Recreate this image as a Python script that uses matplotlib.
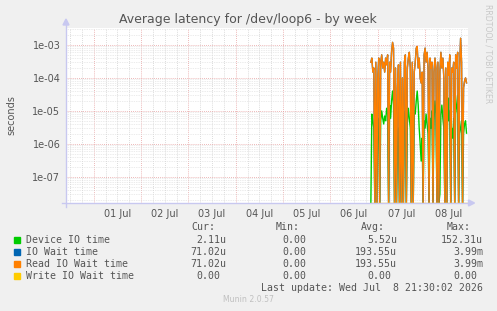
import matplotlib
matplotlib.use("Agg")
import matplotlib.pyplot as plt
import numpy as np
import pandas as pd

# sample times (30 min steps) and values
times = pd.date_range("2026-07-06 20:30", periods=98, freq="30min")

device_io = [
    0, 8e-6, 5e-6, 3e-6, 0, 1e-5, 0, 6e-6, 4e-6, 0,
    5e-6, 1e-5, 6e-6, 4e-6, 7e-6, 5e-6, 1.2e-5, 8e-6, 0, 1.5e-5,
    6e-6, 2e-5, 4e-5, 1.5e-5, 0, 5e-6, 0, 2e-6, 3e-6, 0,
    1e-5, 0, 3e-6, 0, 6e-6, 1e-5, 0, 4e-6, 1.2e-5, 6e-6,
    3e-6, 0, 2e-6, 0, 1e-5, 8e-6, 2e-5, 4e-5, 1.5e-5, 3e-6,
    1e-6, 3e-7, 1.5e-6, 0, 5e-6, 3e-6, 8e-6, 4e-6, 2e-6, 0,
    6e-6, 3e-6, 1e-5, 0, 5e-6, 2e-5, 8e-6, 0, 1e-6, 0,
    3e-8, 8e-6, 1.5e-5, 6e-6, 3e-6, 0, 8e-6, 0, 2.5e-5, 5e-6,
    1e-5, 0, 3e-6, 1.5e-6, 6e-6, 0, 8e-6, 1.5e-5, 3e-5, 0,
    2e-6, 3e-6, 5e-6, 0, 2e-6, 4e-6, 5e-6, 2.11e-6,
]

read_wait = [
    3e-4, 4e-4, 1.5e-4, 2e-4, 0, 3e-4, 0, 1e-4, 4e-4, 0,
    3e-4, 5e-4, 2e-4, 3e-4, 1.5e-4, 4e-4, 2.5e-4, 5e-4, 0, 3e-4,
    1.5e-4, 6e-4, 1.2e-3, 8e-4, 0, 2e-4, 0, 5e-5, 2.5e-4, 0,
    3e-4, 0, 1e-4, 0, 3e-4, 5e-4, 0, 2e-4, 4e-4, 6e-4,
    2e-4, 0, 3e-4, 0, 1.5e-4, 3e-4, 8e-4, 9e-4, 2e-4, 4e-4,
    1e-4, 7e-5, 1.5e-4, 0, 5e-4, 8e-4, 3e-4, 6e-4, 2e-4, 0,
    4e-4, 2e-4, 3e-4, 0, 1.5e-4, 4e-4, 2e-4, 0, 3e-4, 0,
    1.5e-4, 6e-4, 2e-4, 4e-4, 1e-4, 0, 2e-4, 0, 3e-4, 1.2e-4,
    5e-4, 0, 2e-4, 1.5e-4, 3e-4, 0, 5e-4, 2e-4, 6e-4, 0,
    2e-4, 1.6e-3, 3e-4, 0, 5e-5, 8e-5, 1e-4, 7.102e-5,
]
io_wait = list(read_wait)
write_wait = [0] * len(times)

labels = ["Device IO time", "IO Wait time", "Read IO Wait time", "Write IO Wait time"]
colors = ["#00cc00", "#0066b3", "#ff8000", "#ffcc00"]
cur_vals = ["2.11u", "71.02u", "71.02u", "0.00"]
min_vals = ["0.00", "0.00", "0.00", "0.00"]
avg_vals = ["5.52u", "193.55u", "193.55u", "0.00"]
max_vals = ["152.31u", "3.99m", "3.99m", "0.00"]
day_labels = ["01 Jul", "02 Jul", "03 Jul", "04 Jul", "05 Jul", "06 Jul", "07 Jul", "08 Jul"]

W, H = 497, 311
fig = plt.figure(figsize=(W / 100, H / 100), dpi=100, facecolor="#f0f0f0")

# plot area in pixels
L, R, T, B = 66, 467.5, 28, 203
ax = fig.add_axes([L / W, 1 - B / H, (R - L) / W, (B - T) / H])
ax.set_facecolor("white")

ymin, ymax = 1.6e-8, 3.27e-3
ax.set_yscale("log")
ax.set_ylim(ymin, ymax)
x0 = pd.Timestamp("2026-06-30 09:55")
x1 = pd.Timestamp("2026-07-08 21:30")
ax.set_xlim(x0, x1)

def clip(v):
    v = np.asarray(v, dtype=float)
    return np.where(v > 0, v, ymin)

series = [device_io, io_wait, read_wait, write_wait]
for vals, c in zip(series, colors):
    ax.plot(times, clip(vals), color=c, lw=1.0, zorder=3)

# grid
days = pd.date_range("2026-07-01", "2026-07-08", freq="D")
for d in pd.date_range("2026-06-30 12:00", "2026-07-08 18:00", freq="6h"):
    if d < x0 or d > x1:
        continue
    if d.hour == 0:
        ax.axvline(d, color="#e8a0a0", lw=0.6, ls=(0, (1, 1.5)), zorder=1)
    else:
        ax.axvline(d, color="#d0d0d0", lw=0.6, ls=(0, (1, 1.5)), zorder=1)
for e in range(-8, -2):
    for m in range(2, 10):
        y = m * 10.0 ** e
        if ymin < y < ymax:
            ax.axhline(y, color="#d8d8d8", lw=0.5, ls=(0, (1, 1.5)), zorder=1)
for e in range(-7, -2):
    ax.axhline(10.0 ** e, color="#e8a0a0", lw=0.6, ls=(0, (1, 1.5)), zorder=1)

for s in ax.spines.values():
    s.set_visible(False)
ax.tick_params(length=0, labelsize=7, colors="#555555", pad=4)
ax.set_yticks([1e-7, 1e-6, 1e-5, 1e-4, 1e-3])
ax.set_yticklabels(["1e-07", "1e-06", "1e-05", "1e-04", "1e-03"])
ax.yaxis.set_minor_locator(matplotlib.ticker.NullLocator())
ax.set_xticks([d + pd.Timedelta(hours=12) for d in days])
ax.set_xticklabels(day_labels)

# axis lines with arrows
axc = "#c8c8f0"
fig.add_artist(plt.Line2D([L / W, L / W], [1 - (B + 4) / H, 1 - (T - 4) / H], color=axc, lw=1))
fig.add_artist(plt.Line2D([(L - 4) / W, (R + 2) / W], [1 - B / H, 1 - B / H], color=axc, lw=1))
fig.patches.append(matplotlib.patches.Polygon(
    [[(L - 3) / W, 1 - (T - 3) / H], [(L + 3) / W, 1 - (T - 3) / H], [L / W, 1 - (T - 9) / H]],
    closed=True, color=axc, transform=fig.transFigure))
fig.patches.append(matplotlib.patches.Polygon(
    [[(R + 1) / W, 1 - (B - 3) / H], [(R + 1) / W, 1 - (B + 3) / H], [(R + 7) / W, 1 - B / H]],
    closed=True, color=axc, transform=fig.transFigure))

def fx(px):
    return px / W

def fy(py):
    return 1 - py / H

fig.text(fx(248), fy(19), "Average latency for /dev/loop6 - by week", ha="center", va="center",
         fontsize=9.0, color="#555555")
fig.text(fx(11), fy(115), "seconds", rotation=90, ha="center", va="center", fontsize=7, color="#555555")
fig.text(fx(488), fy(4), "RRDTOOL / TOBI OETIKER", rotation=270, ha="center", va="top",
         fontsize=5.6, color="#c8c8c8")

mono = dict(family="DejaVu Sans Mono", fontsize=7.1, color="#555555", va="center")
for x, h in zip([191, 276, 361, 447], ["Cur:", "Min:", "Avg:", "Max:"]):
    fig.text(fx(x), fy(227), h, ha="left", **mono)

cw = 5.95
def rtext(xend, y, s):
    if s[-1].isdigit():
        xend -= cw
    fig.text(fx(xend), fy(y), s, ha="right", **mono)

row_y = [240, 252, 264, 276]
for i in range(4):
    y = row_y[i]
    fig.patches.append(matplotlib.patches.Rectangle(
        (fx(14), fy(y + 3)), 6 / W, 6 / H, color=colors[i], transform=fig.transFigure))
    fig.text(fx(26), fy(y), labels[i], ha="left", **mono)
    rtext(226, y, cur_vals[i])
    rtext(312, y, min_vals[i])
    rtext(397, y, avg_vals[i])
    rtext(483, y, max_vals[i])

fig.text(fx(483), fy(288), "Last update: Wed Jul  8 21:30:02 2026", ha="right", **mono)
fig.text(fx(248), fy(300), "Munin 2.0.57", ha="center", va="center", fontsize=5.6, color="#c0c0c0")

fig.savefig("out.png", dpi=100, facecolor=fig.get_facecolor())
